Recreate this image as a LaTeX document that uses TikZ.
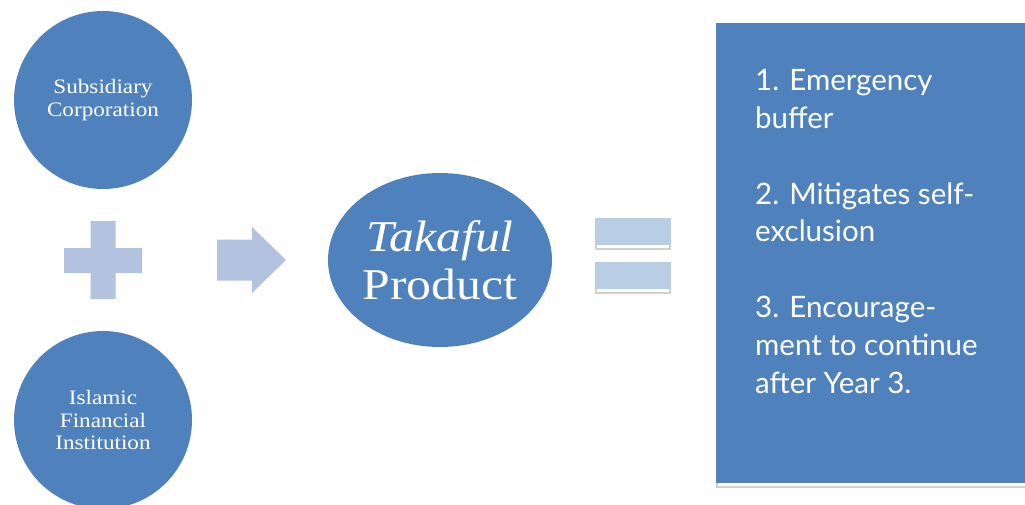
\documentclass[tikz,border=0pt]{standalone}
\usepackage{fontspec}
\setmainfont{Liberation Serif}[FakeStretch=1.13]
\newfontfamily\boxfont{Lato}
\usetikzlibrary{shapes.geometric}
\definecolor{cblue}{HTML}{4F81BD}
\definecolor{plusblue}{HTML}{B3C2DE}
\definecolor{eqblue}{HTML}{B9CDE5}
\definecolor{shadowgray}{HTML}{D0D0D0}
\tikzset{
  bigcircle/.style={circle, fill=cblue, minimum size=178pt, inner sep=0pt, text=white,
    align=center, font=\fontsize{20.5}{22.5}\selectfont},
  prodellipse/.style={ellipse, fill=cblue, minimum width=224pt, minimum height=174pt,
    inner sep=0pt, text=white, align=center, font=\fontsize{44}{48}\selectfont},
  boxline/.style={anchor=base west, inner sep=0pt, text=white, font=\boxfont\fontsize{29.5}{32}\selectfont},
  lightshape/.style={fill=plusblue},
  eqbar/.style={fill=eqblue},
}
\begin{document}
\begin{tikzpicture}[x=1pt,y=-1pt]
\useasboundingbox (0,0) rectangle (1025,504);
\begin{scope}
\clip (0,0) rectangle (1025,504);
% circles
\node[bigcircle] (sub) at (103,100) {Subsidiary\\Corporation};
\node[bigcircle] (ifi) at (103,420) {Islamic\\Financial\\Institution};
% plus
\fill[lightshape] (90.5,221) -- (115.5,221) -- (115.5,248) -- (142,248) -- (142,273)
  -- (115.5,273) -- (115.5,299) -- (90.5,299) -- (90.5,273) -- (64,273) -- (64,248)
  -- (90.5,248) -- cycle;
% arrow
\fill[lightshape] (217,239.5) -- (252,239.5) -- (252,227) -- (286,260) -- (252,293)
  -- (252,280.5) -- (217,280.5) -- cycle;
% product
\node[prodellipse] (prod) at (440,260) {\textit{Takaful}\\Product};
% equals
\fill[shadowgray] (595,245) rectangle (671,250);
\fill[white] (597,245) rectangle (669,248);
\fill[eqbar] (595,218) rectangle (671,245);
\fill[shadowgray] (595,289) rectangle (671,294);
\fill[white] (597,289) rectangle (669,292);
\fill[eqbar] (595,262) rectangle (671,289);
% result box
\fill[shadowgray] (716,483) rectangle (1025,488);
\fill[white] (718,483) rectangle (1025,486);
\fill[cblue] (716,23) rectangle (1025,483);
\node[boxline] (l1) at (755,90) {1. Emergency};
\node[boxline] (l2) at (755,128) {buffer};
\node[boxline] (l3) at (755,204) {2. Mitigates self-};
\node[boxline] (l4) at (755,241) {exclusion};
\node[boxline] (l5) at (755,317) {3. Encourage-};
\node[boxline] (l6) at (755,355) {ment to continue};
\node[boxline] (l7) at (755,393) {after Year 3.};
\end{scope}
\end{tikzpicture}
\end{document}
